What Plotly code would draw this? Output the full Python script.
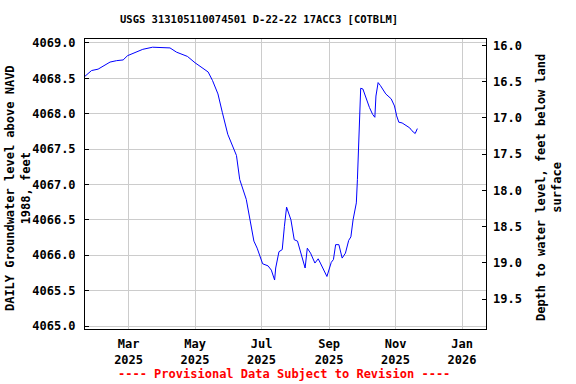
import plotly.graph_objects as go

title_text = "USGS 313105110074501 D-22-22 17ACC3 [COTBLM]"
left_title = "DAILY Groundwater level above NAVD<br>1988, feet"
right_title = "Depth to water level, feet below land<br>surface"
footer = "---- Provisional Data Subject to Revision ----"

dates = ["2025-01-20", "2025-01-26", "2025-02-01", "2025-02-12", "2025-02-18", "2025-02-24",
         "2025-02-28", "2025-03-06", "2025-03-14", "2025-03-23", "2025-03-31", "2025-04-08",
         "2025-04-14", "2025-04-20", "2025-04-24", "2025-05-01", "2025-05-08", "2025-05-13",
         "2025-05-17", "2025-05-22", "2025-05-26", "2025-05-31", "2025-06-08", "2025-06-11",
         "2025-06-17", "2025-06-21", "2025-06-24", "2025-06-27", "2025-07-02", "2025-07-07",
         "2025-07-10", "2025-07-13", "2025-07-14", "2025-07-17", "2025-07-20", "2025-07-22",
         "2025-07-24", "2025-07-28", "2025-07-31", "2025-08-03", "2025-08-06", "2025-08-10",
         "2025-08-12", "2025-08-15", "2025-08-19", "2025-08-22", "2025-08-24", "2025-08-28",
         "2025-08-30", "2025-09-03", "2025-09-05", "2025-09-07", "2025-09-10", "2025-09-13",
         "2025-09-16", "2025-09-19", "2025-09-21", "2025-09-23", "2025-09-26", "2025-09-27",
         "2025-09-28", "2025-09-29", "2025-09-30", "2025-10-02", "2025-10-05", "2025-10-08",
         "2025-10-11", "2025-10-13", "2025-10-14", "2025-10-16", "2025-10-18", "2025-10-23",
         "2025-10-28", "2025-10-31", "2025-11-02", "2025-11-04", "2025-11-07", "2025-11-12",
         "2025-11-14", "2025-11-16", "2025-11-19", "2025-11-21"]

levels = [4068.53, 4068.61, 4068.63, 4068.73, 4068.75, 4068.76,
          4068.82, 4068.86, 4068.91, 4068.94, 4068.93, 4068.93,
          4068.87, 4068.83, 4068.81, 4068.72, 4068.65, 4068.59,
          4068.47, 4068.28, 4068.02, 4067.71, 4067.41, 4067.07,
          4066.79, 4066.46, 4066.20, 4066.10, 4065.88, 4065.85,
          4065.79, 4065.65, 4065.82, 4066.05, 4066.08, 4066.41,
          4066.68, 4066.50, 4066.22, 4066.20, 4066.05, 4065.82,
          4066.10, 4066.03, 4065.89, 4065.95, 4065.89, 4065.75,
          4065.70, 4065.90, 4065.94, 4066.15, 4066.15, 4065.96,
          4066.03, 4066.21, 4066.26, 4066.50, 4066.74, 4067.07,
          4067.57, 4068.13, 4068.36, 4068.35, 4068.21, 4068.09,
          4067.99, 4067.95, 4068.25, 4068.44, 4068.40, 4068.28,
          4068.21, 4068.11, 4067.97, 4067.88, 4067.87, 4067.82,
          4067.80, 4067.76, 4067.72, 4067.79]

x_range = ["2025-01-20", "2026-01-23"]
left_range = [4064.958, 4069.056]
right_range = [19.913, 15.913]

FONT = "DejaVu Sans Mono"

fig = go.Figure()
fig.add_trace(go.Scatter(x=dates, y=levels, mode="lines",
                         line=dict(color="#0000ff", width=1), showlegend=False,
                         hoverinfo="skip"))
fig.add_trace(go.Scatter(x=[dates[0]], y=[None], yaxis="y2", mode="lines",
                         showlegend=False, hoverinfo="skip"))

fig.update_layout(
    width=576, height=384,
    margin=dict(l=85, r=90, t=39, b=55),
    paper_bgcolor="white", plot_bgcolor="white",
    font=dict(family=FONT, size=12, color="black", weight="bold"),
    xaxis=dict(range=x_range, type="date", dtick="M2", tick0="2025-03-01",
               tickformat="%b<br>%Y", showgrid=True, gridcolor="#cccccc", gridwidth=1,
               showline=True, linecolor="black", linewidth=1, mirror=True,
               ticks="", ticklabelstandoff=4,
               tickfont=dict(family=FONT, size=12, weight="bold")),
    yaxis=dict(range=left_range, dtick=0.5, tick0=4065, tickformat=".1f",
               showgrid=True, gridcolor="#cccccc", gridwidth=1,
               showline=True, linecolor="black", linewidth=1, mirror=True,
               ticks="inside", ticklen=4, tickcolor="black", ticklabelstandoff=6,
               zeroline=False,
               tickfont=dict(family=FONT, size=12, weight="bold")),
    yaxis2=dict(range=right_range, overlaying="y", side="right", anchor="x",
                dtick=0.5, tick0=16, tickformat=".1f", showgrid=False,
                ticks="inside", ticklen=4, tickcolor="black", ticklabelstandoff=6,
                zeroline=False, showline=False,
                tickfont=dict(family=FONT, size=12, weight="bold")),
    annotations=[
        dict(text=title_text, xref="paper", yref="paper", x=0.433, y=1.0,
             yshift=20, showarrow=False, xanchor="center", yanchor="middle",
             font=dict(family=FONT, size=10.5, weight="bold")),
        dict(text=left_title, xref="paper", yref="paper", x=0, xshift=-67,
             y=0.486, showarrow=False, textangle=-90, xanchor="center",
             yanchor="middle", font=dict(family=FONT, size=12, weight="bold")),
        dict(text=right_title, xref="paper", yref="paper", x=1, xshift=63,
             y=0.486, showarrow=False, textangle=-90, xanchor="center",
             yanchor="middle", font=dict(family=FONT, size=12, weight="bold")),
        dict(text=footer, xref="paper", yref="paper", x=0.497, y=0,
             yshift=-45, showarrow=False, xanchor="center", yanchor="middle",
             font=dict(family=FONT, size=12, color="red", weight="bold")),
    ],
)

fig.write_html("out.html", config={"displayModeBar": False},
               post_script="document.body.style.margin='0';document.body.style.padding='0';")
